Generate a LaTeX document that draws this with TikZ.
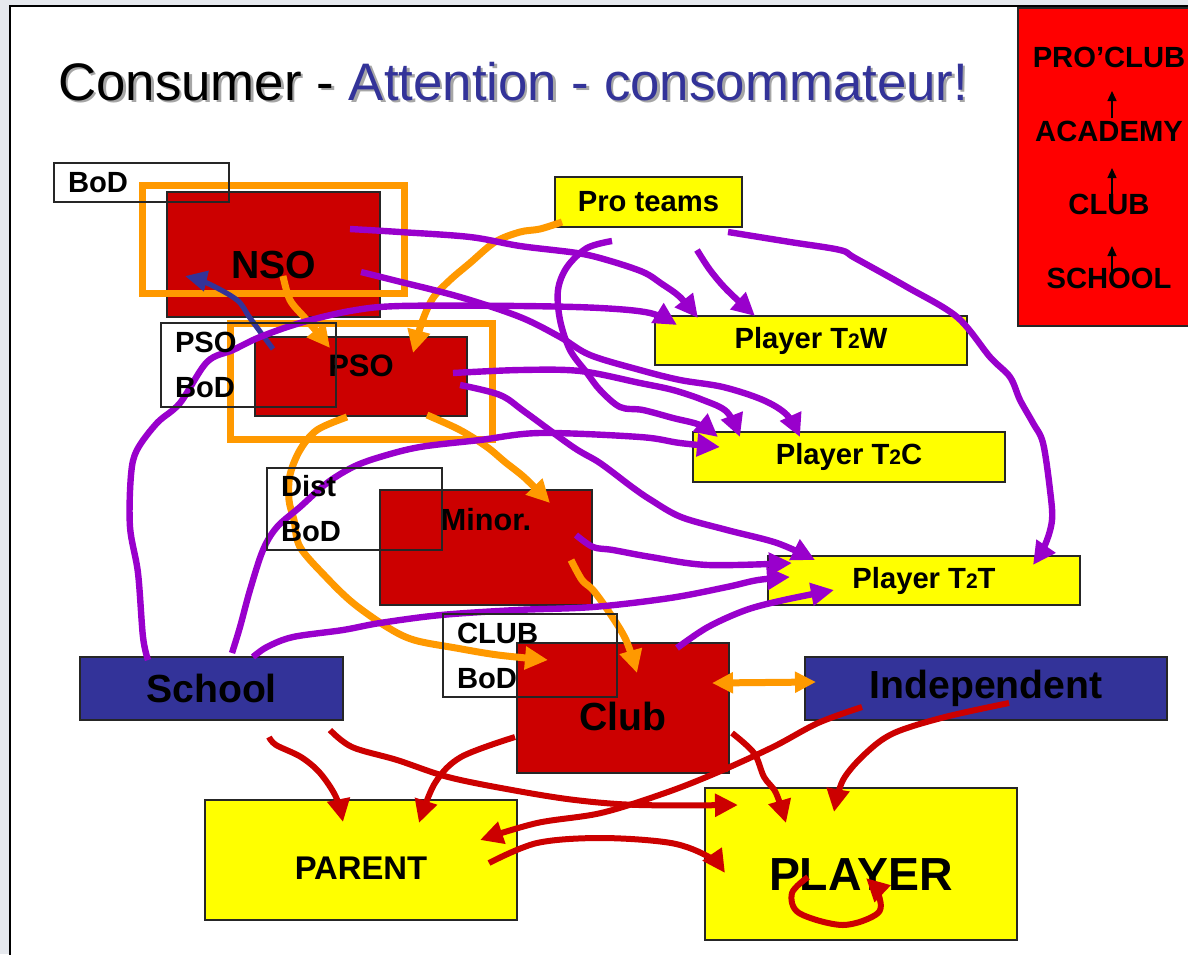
\documentclass[tikz,border=0pt]{standalone}
\usepackage{fontspec}
\setmainfont{Liberation Sans}
\usetikzlibrary{arrows.meta,calc}

\definecolor{boxred}{HTML}{CC0000}
\definecolor{legred}{HTML}{FF0000}
\definecolor{boxyellow}{HTML}{FFFF00}
\definecolor{boxblue}{HTML}{333399}
\definecolor{strokeorange}{HTML}{FF9900}
\definecolor{strokeviolet}{HTML}{9900CC}
\definecolor{slidegray}{HTML}{E6E9EE}

\begin{document}
\begin{tikzpicture}[x=0.5pt, y=-0.5pt,
    box/.style={draw=black!85, line width=0.6pt, inner sep=0pt},
    redbox/.style={box, fill=boxred},
    yelbox/.style={box, fill=boxyellow},
    bluebox/.style={box, fill=boxblue},
    bodbox/.style={draw=black!85, line width=0.6pt, align=left, text width=73.5pt,
        inner xsep=7pt, inner ysep=0pt, font=\bfseries\fontsize{14.6}{22.5}\selectfont},
    lbl/.style={font=\bfseries\fontsize{14.6}{17}\selectfont},
    biglbl/.style={font=\bfseries\fontsize{19.6}{22}\selectfont},
    titletext/.style={anchor=base west, inner sep=0pt, font=\fontsize{26.4}{30}\selectfont},
    orangeframe/.style={draw=strokeorange, line width=3.5pt},
    tipbig/.style={-{Triangle[length=11.5pt,width=11pt]}},
    vio/.style={draw=strokeviolet, line width=3.2pt, line join=round, tipbig},
    ora/.style={draw=strokeorange, line width=3.5pt, line join=round, tipbig},
    rd/.style={draw=boxred, line width=3pt, line join=round, tipbig},
    freehand/.style={smooth, tension=0.55}]

    % slide and page
    \useasboundingbox (0,0) rectangle (1188,954);
    \clip (0,0) rectangle (1188,954);
    \fill[slidegray] (0,0) rectangle (1188,954);
    \draw[fill=white, line width=1pt] (9.5,5.5) rectangle (1220,990);

    % title with its shadow
    \node[titletext, text=black!35] (titleshadow) at (60.5,102.5) {Consumer - Attention - consommateur!};
    \node[titletext] (title) at (58,100) {Consumer - \textcolor{boxblue}{Attention - consommateur!}};

    % legend on the right
    \node[box, fill=legred, minimum width=91pt, minimum height=159pt] (legend) at (1109,167) {};
    \node[lbl] (lg1) at (1109,57) {PRO’CLUB};
    \node[lbl] (lg2) at (1109,131) {ACADEMY};
    \node[lbl] (lg3) at (1109,204) {CLUB};
    \node[lbl] (lg4) at (1109,278) {SCHOOL};
    \draw[line width=0.7pt, -{Triangle[length=5pt,width=4.5pt]}] ($(lg2.center)+(3,-13)$) -- ($(lg1.center)+(3,34)$);
    \draw[line width=0.7pt, -{Triangle[length=5pt,width=4.5pt]}] ($(lg3.center)+(3,-4)$) -- ($(lg2.center)+(3,37)$);
    \draw[line width=0.7pt, -{Triangle[length=5pt,width=4.5pt]}] ($(lg4.center)+(3,-1)$) -- ($(lg3.center)+(3,42)$);

    % organisations
    \node[redbox, minimum width=106.5pt, minimum height=62.5pt,
        label={[biglbl, yshift=-5pt]center:NSO}] (nso) at (273.5,254.5) {};
    \node[redbox, minimum width=106pt, minimum height=39.5pt,
        label={[font=\bfseries\fontsize{15.5}{18}\selectfont, yshift=5.5pt]center:PSO}] (pso) at (361,376.5) {};
    \node[redbox, minimum width=106pt, minimum height=57.5pt,
        label={[font=\bfseries\fontsize{15.3}{18}\selectfont, yshift=14pt]center:Minor.}] (minor) at (486,547.5) {};
    \node[redbox, minimum width=106pt, minimum height=65pt,
        label={[biglbl, yshift=-4.3pt]center:Club}] (club) at (623,708) {};
    \node[bluebox, biglbl, minimum width=131.5pt, minimum height=31.5pt] (school) at (211.5,688.5) {School};
    \node[bluebox, biglbl, minimum width=181pt, minimum height=31.5pt] (indep) at (986,688.5) {Independent};

    % teams and people
    \node[yelbox, lbl, minimum width=93.5pt, minimum height=25pt] (pro) at (648.5,202) {Pro teams};
    \node[yelbox, lbl, minimum width=156pt, minimum height=24.5pt] (ttw) at (811,340.5) {Player T{\fontsize{10.5}{12}\selectfont 2}W};
    \node[yelbox, lbl, minimum width=156pt, minimum height=25pt] (ttc) at (849,457) {Player T{\fontsize{10.5}{12}\selectfont 2}C};
    \node[yelbox, lbl, minimum width=156pt, minimum height=24.5pt] (ttt) at (924,580.5) {Player T{\fontsize{10.5}{12}\selectfont 2}T};
    \node[yelbox, minimum width=156pt, minimum height=60pt,
        label={[font=\bfseries\fontsize{16.4}{19}\selectfont, yshift=-4.3pt]center:PARENT}] (parent) at (361,860) {};
    \node[yelbox, minimum width=156pt, minimum height=76pt,
        label={[font=\bfseries\fontsize{23.2}{26}\selectfont, yshift=-5.5pt]center:PLAYER}] (player) at (861,864) {};

    % orange frames round NSO and PSO
    \draw[orangeframe] (142.5,185) rectangle (404,293.5);
    \draw[orangeframe] (230,323) rectangle (492.5,439.5);

    % orange strokes
    \draw[ora] plot[freehand] coordinates {($(nso.center)+(9.5,21.5)$) (290,300) (305,318) (318,333) ($(pso.center)+(-31,-28.5)$)};
    \draw[ora] plot[freehand] coordinates {($(pro.center)+(-86.5,20)$) (540,229) (520,232) (495,242) (470,263) (450,280) (433,298) (422,322) ($(pso.center)+(52,-23.5)$)};
    \draw[ora] plot[freehand] coordinates {($(pso.center)+(-14,40.5)$) (317,430) (300,450) (290,475) (289,500) (294,520) (300,547) (326,577) (353,603) (387,627) (414,640) (456,648) (498,655) ($(club.center)+(-75,-48)$)};
    \draw[ora] plot[freehand] coordinates {($(pso.center)+(66,38.5)$) (460,430) (487,447) (505,462) (525,478) ($(minor.center)+(64,-44.5)$)};
    \draw[ora] plot[freehand] coordinates {($(minor.center)+(85,12.5)$) (582,580) (593,590) (609,612) (626,640) ($(club.center)+(14,-35)$)};
    \draw[draw=strokeorange, line width=3.5pt, {Triangle[length=10.5pt,width=10pt]}-{Triangle[length=10.5pt,width=10pt]}]
        ($(club.center)+(89,-25)$) -- ($(indep.center)+(-170,-6.5)$);

    % blue stroke
    \draw[draw=boxblue, line width=2.6pt, line join=round, -{Triangle[length=11pt,width=10pt]}]
        plot[freehand] coordinates {($(pso.center)+(-88,-27.5)$) (250,318) (237,300) (207,283) ($(nso.center)+(-88.5,21.5)$)};

    % violet strokes
    \draw[vio] plot[freehand] coordinates {($(nso.center)+(76.5,-25.5)$) (400,232) (470,237) (520,246) (577,253) (607,260) (643,272) (662,284) (680,297) ($(ttw.center)+(-113,-22.5)$)};
    \draw[vio] plot[freehand] coordinates {($(nso.center)+(87.5,17.5)$) (393,280) (460,297) (520,317) (560,337) (590,355) (640,370) (680,380) (723,387) (763,400) (787,415) ($(ttc.center)+(-49,-20)$)};
    \draw[vio] plot[freehand] coordinates {($(pro.center)+(-36.5,39)$) (587,248) (567,267) (558,290) (560,320) (570,350) (587,373) (600,390) (620,407) (643,410) (673,418) (700,425) ($(ttc.center)+(-131,-20)$)};
    \draw[vio] plot[freehand] coordinates {($(pro.center)+(48.5,48)$) (710,270) (727,290) ($(ttw.center)+(-56,-24.5)$)};
    \draw[vio] plot[freehand] coordinates {($(pro.center)+(79.5,30)$) (790,242) (840,250) (855,258) (907,287) (957,317) (990,357) (1010,377) (1020,400) (1033,423) (1043,443) (1050,490) (1052,520) (1045,545) ($(ttt.center)+(109,-15.5)$)};
    \draw[vio] plot[freehand] coordinates {($(school.center)+(-63.5,-28.5)$) (143,637) (138,573) (130,527) (131,475) (137,450) (157,423) (180,403) (207,362) (233,350) (260,337) (300,323) (350,311) (400,306) (520,306) (600,308) (650,313) ($(ttw.center)+(-134,-15.5)$)};
    \draw[vio] plot[freehand] coordinates {($(pso.center)+(92,-3.5)$) (520,370) (580,371) (640,383) (673,390) (703,400) (727,412) ($(ttc.center)+(-109,-20)$)};
    \draw[vio] plot[freehand] coordinates {($(school.center)+(20.5,-35.5)$) (240,627) (250,590) (263,550) (277,527) (300,507) (327,483) (353,467) (380,457) (420,447) (480,440) (540,433) (640,437) (680,443) ($(ttc.center)+(-129,-10)$)};
    \draw[vio] plot[freehand] coordinates {($(pso.center)+(99,8.5)$) (500,395) (525,412) (573,447) (600,463) (632,487) (651,500) (681,517) (727,530) (777,543) ($(ttt.center)+(-109,-20.5)$)};
    \draw[vio] plot[freehand] coordinates {($(minor.center)+(90,-12.5)$) (593,547) (613,550) (651,557) (708,565) ($(ttt.center)+(-132,-17.5)$)};
    \draw[vio] plot[freehand] coordinates {($(school.center)+(41.5,-31.5)$) (267,647) (293,637) (343,630) (380,623) (441,615) (517,610) (593,607) (670,598) (727,587) (758,580) ($(ttt.center)+(-134,-3.5)$)};
    \draw[vio] plot[freehand] coordinates {($(club.center)+(54,-60)$) (708,627) (746,610) (784,600) ($(ttt.center)+(-90,9.5)$)};

    % red strokes
    \draw[rd] plot[freehand] coordinates {($(school.center)+(57.5,48.5)$) (276,745) (301,757) (320,773) (336,797) ($(parent.center)+(-18,-38)$)};
    \draw[rd] plot[freehand] coordinates {($(school.center)+(118.5,41.5)$) (352,747) (397,760) (448,777) (512,790) (575,800) (639,805) ($(player.center)+(-123,-59)$)};
    \draw[rd] plot[freehand] coordinates {($(club.center)+(-108,29)$) (461,757) (435,783) ($(parent.center)+(58,-37)$)};
    \draw[rd] plot[freehand] coordinates {($(club.center)+(109,25)$) (754,753) (764,777) (776,793) ($(player.center)+(-75,-41)$)};
    \draw[rd] plot[freehand] coordinates {($(indep.center)+(-124,18.5)$) (818,723) (773,747) (716,773) (665,793) (601,813) (537,823) ($(parent.center)+(119,-20)$)};
    \draw[rd] plot[freehand] coordinates {($(indep.center)+(23,14.5)$) (945,717) (894,733) (866,753) (843,780) ($(player.center)+(-27,-52)$)};
    \draw[rd] plot[freehand] coordinates {($(parent.center)+(128,3)$) (537,843) (601,838) (671,843) (709,857) ($(player.center)+(-136,9)$)};
    \draw[rd] plot[freehand] coordinates {($(player.center)+(-53,13)$) (792,893) (799,913) (843,925) (878,913) (878,893) ($(player.center)+(5,14)$)};

    % boards, outlined on top
    \node[bodbox, minimum height=19.5pt] (bodtop) at (141.5,182.5) {BoD};
    \node[bodbox, minimum height=42pt] (psobod) at (248.5,365) {PSO\\BoD};
    \node[bodbox, minimum height=41pt] (distbod) at (354.5,509) {Dist\\BoD};
    \node[bodbox, minimum height=41.5pt, text width=73pt] (clubbod) at (530,655.5) {CLUB\\BoD};

\end{tikzpicture}
\end{document}
